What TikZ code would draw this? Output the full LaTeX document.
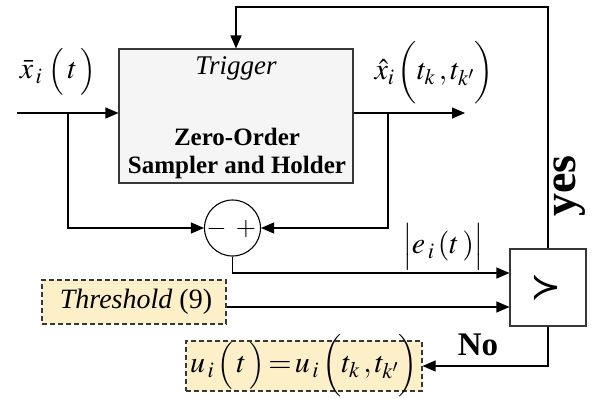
\documentclass[tikz,border=0pt]{standalone}
\usepackage{mathptmx}
\usepackage[no-math]{fontspec}
\setmainfont{Liberation Serif}
\newfontfamily\djv{DejaVu Sans}
\usetikzlibrary{arrows.meta}
\definecolor{yell}{RGB}{253,239,200}
\definecolor{boxgray}{RGB}{245,245,245}
\definecolor{edge}{RGB}{55,55,55}
% delimiters set at a smaller math size than the letters
\newcommand{\myDel}[1]{\hbox{\fontsize{26}{30}\selectfont$#1$}}
\tikzset{
  conn/.style={draw=black,line width=1.1pt,-{Triangle[length=13pt,width=11pt]}},
  mainbox/.style={draw=edge,fill=boxgray,line width=1.1pt,minimum width=234pt,minimum height=134pt,inner sep=0pt},
  dbox/.style={draw=edge,fill=yell,line width=1.1pt,dash pattern=on 5pt off 3pt,inner sep=0pt},
  cmpbox/.style={draw=edge,fill=white,line width=1.1pt,minimum width=76pt,minimum height=77pt,inner sep=0pt},
  sumc/.style={circle,draw=black,fill=white,line width=1.1pt,minimum size=56pt,inner sep=0pt},
  lbl/.style={inner sep=0pt,font=\fontsize{30}{30}\selectfont},
  boxtxt/.style={inner sep=0pt,font=\fontsize{25}{28}\selectfont\bfseries},
}
\begin{document}
\begin{tikzpicture}[x=1pt,y=-1pt]
\useasboundingbox (0,0) rectangle (592,399);
% blocks
\node[mainbox] (box) at (236,116) {};
\node[inner sep=0pt,font=\fontsize{27}{30}\selectfont\itshape] (trig) at (236,68) {Trigger};
\node[boxtxt,anchor=base] (zoh1) at (237,145) {Zero-Order};
\node[boxtxt,anchor=base] (zoh2) at (237,173) {Sampler and Holder};
\node[sumc] (sum) at (232.5,228) {};
\node[inner sep=0pt,font=\fontsize{26}{28}\selectfont] (sm) at (216.5,229) {$-$};
\node[inner sep=0pt,font=\fontsize{26}{28}\selectfont] (sp) at (246,229) {$+$};
\node[cmpbox] (cmp) at (548,287.5) {};
\node[inner sep=0pt,font=\fontsize{37}{37}\selectfont\djv] (gt) at (546,288) {≻};
\node[dbox,minimum width=184pt,minimum height=44pt] (thr) at (134,302) {};
\node[inner sep=0pt,font=\fontsize{28}{30}\selectfont] (thrt) at (136,302) {\textit{Threshold} (9)};
\node[dbox,minimum width=236pt,minimum height=50pt] (ub) at (304,366) {};
\node[lbl] (ut) at (304,366) {$u_{\,i}\,\myDel{\Bigl(}\,t\,\myDel{\Bigr)}\!=\!u_{\,i}\,\myDel{\biggl(}t_{k}\,,t_{k'}\myDel{\biggr)}$};
% labels
\node[lbl] (xbar) at (58,72) {$\bar{x}_{\,i}\;\myDel{\Bigl(}\,t\,\myDel{\Bigr)}$};
\node[lbl] (xhat) at (434,73) {$\hat{x}_{i}\,\myDel{\biggl(}t_{k}\,,t_{k'}\myDel{\biggr)}$};
\node[lbl] (el) at (443,247) {$\myDel{\Bigl|}e_{\,i}\,(t\,)\myDel{\Bigr|}$};
\node[inner sep=0pt,font=\fontsize{46}{48}\selectfont\bfseries,rotate=90,anchor=base] (yes) at (575,186) {yes};
\node[inner sep=0pt,font=\fontsize{33}{36}\selectfont\bfseries,anchor=base] (no) at (478,355) {No};
% coordinates
\coordinate (in) at (17,113);
\coordinate (bl) at (68,113);
\coordinate (out) at (465,113);
\coordinate (br) at (388,113);
\coordinate (fb) at (236,7);
\coordinate (ey) at (232.5,273);
% connectors
\draw[conn] (in) -- (in -| box.west);
\draw[conn] (in -| box.east) -- (out);
\draw[conn] (bl) |- (sum.west);
\draw[conn] (br) |- (sum.east);
\draw[conn] (sum.south) -- (ey) -- (ey -| cmp.west);
\draw[conn] ([yshift=-5pt]thr.east) -- ([yshift=-5pt]thr.east -| cmp.west);
\draw[conn] (cmp.north) |- (fb) -- (box.north);
\draw[conn] (cmp.south) |- (ub.east);
\end{tikzpicture}
\end{document}
